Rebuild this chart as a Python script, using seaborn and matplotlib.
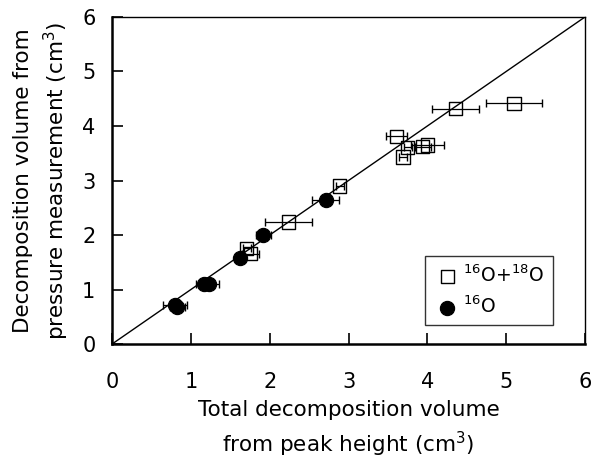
import numpy as np
import pandas as pd
import matplotlib
matplotlib.use('Agg')
import matplotlib.pyplot as plt
import seaborn as sns

# 16O+18O (open squares)
mix_x = [4.36, 5.10, 3.61, 3.75, 3.69, 3.94, 4.00, 2.89, 2.24, 1.71, 1.76]
mix_y = [4.32, 4.42, 3.81, 3.61, 3.43, 3.62, 3.65, 2.90, 2.24, 1.76, 1.66]
mix_xerr = [0.30, 0.35, 0.13, 0.05, 0.05, 0.10, 0.21, 0.05, 0.30, 0.05, 0.11]

# 16O (filled circles)
o16_x = [2.71, 1.92, 1.62, 1.16, 1.23, 0.80, 0.83]
o16_y = [2.65, 2.00, 1.57, 1.10, 1.10, 0.72, 0.68]
o16_xerr = [0.17, 0.10, 0.05, 0.10, 0.13, 0.15, 0.10]

sns.set_style('white')
plt.rcParams['font.family'] = ['DejaVu Sans']
plt.rcParams['mathtext.fontset'] = 'dejavusans'
plt.rcParams['text.color'] = 'black'
plt.rcParams['axes.labelcolor'] = 'black'
plt.rcParams['xtick.color'] = 'black'
plt.rcParams['ytick.color'] = 'black'

fig = plt.figure(figsize=(5.93, 4.59), dpi=100)
ax = fig.add_axes([0.189, 0.2505, 0.7975, 0.7125])

ax.plot([0, 6], [0, 6], color='black', lw=1.0, zorder=1)

ax.errorbar(mix_x, mix_y, xerr=mix_xerr, fmt='none', ecolor='black',
            elinewidth=0.9, capsize=3, zorder=2)
ax.errorbar(o16_x, o16_y, xerr=o16_xerr, fmt='none', ecolor='black',
            elinewidth=0.9, capsize=3, zorder=2)

mix = pd.DataFrame({'x': mix_x, 'y': mix_y})
o16 = pd.DataFrame({'x': o16_x, 'y': o16_y})
sns.scatterplot(data=mix, x='x', y='y', marker='s', s=90, facecolor='none',
                edgecolor='black', linewidth=1.0, ax=ax, zorder=3,
                label=r'$^{16}$O+$^{18}$O')
sns.scatterplot(data=o16, x='x', y='y', marker='o', s=105, color='black',
                edgecolor='black', ax=ax, zorder=4, label=r'$^{16}$O')

ax.set_xlim(0, 6)
ax.set_ylim(0, 6)
ax.set_xticks(range(7))
ax.set_yticks(range(7))
ax.tick_params(direction='in', length=8, width=1.2, labelsize=15,
               bottom=True, left=True)
ax.tick_params(axis='x', pad=20)
ax.tick_params(axis='y', pad=12)
for sp in ax.spines.values():
    sp.set_color('black')
    sp.set_linewidth(1.0)
ax.spines['bottom'].set_linewidth(1.8)
ax.spines['left'].set_linewidth(1.8)

ax.set_xlabel('Total decomposition volume\nfrom peak height (cm$^3$)',
              fontsize=15.5, labelpad=6, linespacing=1.45)
ax.set_ylabel('Decomposition volume from\npressure measurement (cm$^3$)',
              fontsize=15.5, labelpad=8, linespacing=1.4)

leg = ax.legend(loc='lower right', bbox_to_anchor=(0.932, 0.058), fontsize=13.5,
                frameon=True, fancybox=False, edgecolor='black',
                handletextpad=0.1, borderpad=0.45, labelspacing=0.5,
                handlelength=1.5, borderaxespad=0, markerscale=1.0)
leg.get_frame().set_linewidth(1.0)

fig.savefig('out.png', dpi=100)
